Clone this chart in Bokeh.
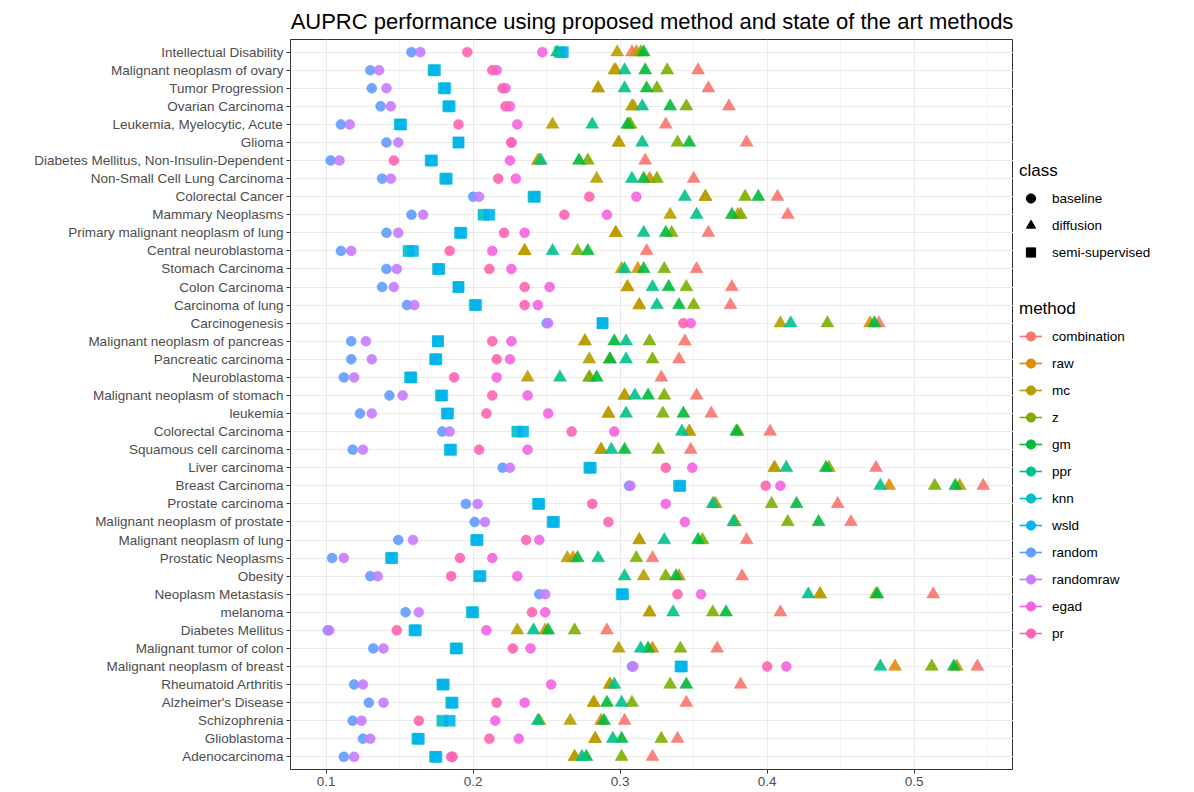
from bokeh.plotting import figure
from bokeh.models import (ColumnDataSource, FactorRange, Range1d, FixedTicker,
                          Legend, LegendItem)
from bokeh.layouts import row
from bokeh.embed import file_html
from bokeh.resources import INLINE

# Diseases, listed top to bottom
diseases = [
    "Intellectual Disability", "Malignant neoplasm of ovary", "Tumor Progression",
    "Ovarian Carcinoma", "Leukemia, Myelocytic, Acute", "Glioma",
    "Diabetes Mellitus, Non-Insulin-Dependent", "Non-Small Cell Lung Carcinoma",
    "Colorectal Cancer", "Mammary Neoplasms", "Primary malignant neoplasm of lung",
    "Central neuroblastoma", "Stomach Carcinoma", "Colon Carcinoma",
    "Carcinoma of lung", "Carcinogenesis", "Malignant neoplasm of pancreas",
    "Pancreatic carcinoma", "Neuroblastoma", "Malignant neoplasm of stomach",
    "leukemia", "Colorectal Carcinoma", "Squamous cell carcinoma", "Liver carcinoma",
    "Breast Carcinoma", "Prostate carcinoma", "Malignant neoplasm of prostate",
    "Malignant neoplasm of lung", "Prostatic Neoplasms", "Obesity",
    "Neoplasm Metastasis", "melanoma", "Diabetes Mellitus", "Malignant tumor of colon",
    "Malignant neoplasm of breast", "Rheumatoid Arthritis", "Alzheimer's Disease",
    "Schizophrenia", "Glioblastoma", "Adenocarcinoma",
]

methods = ["combination", "raw", "mc", "z", "gm", "ppr",
           "knn", "wsld", "random", "randomraw", "egad", "pr"]
method_class = {
    "combination": "diffusion", "raw": "diffusion", "mc": "diffusion",
    "z": "diffusion", "gm": "diffusion", "ppr": "diffusion",
    "knn": "semi-supervised", "wsld": "semi-supervised",
    "random": "baseline", "randomraw": "baseline", "egad": "baseline", "pr": "baseline",
}
classes = ["baseline", "diffusion", "semi-supervised"]
method_colors = ["#F8766D", "#DE8C00", "#B79F00", "#7CAE00", "#00BA38", "#00C08B",
                 "#00BFC4", "#00B4F0", "#619CFF", "#C77CFF", "#F564E3", "#FF64B0"]

# AUPRC per method, one value per disease (same order as `diseases`)
combination = [0.308, 0.353, 0.360, 0.374, 0.331, 0.386, 0.317, 0.350, 0.407, 0.414,
               0.360, 0.318, 0.352, 0.376, 0.375, 0.476, 0.344, 0.340, 0.328, 0.352,
               0.362, 0.402, 0.348, 0.474, 0.547, 0.448, 0.457, 0.386, 0.322, 0.383,
               0.513, 0.409, 0.291, 0.366, 0.543, 0.382, 0.345, 0.303, 0.339, 0.322]
raw = [0.311, 0.297, 0.285, 0.309, 0.306, 0.299, 0.245, 0.320, 0.358, 0.380,
       0.297, 0.235, 0.312, 0.305, 0.313, 0.470, 0.276, 0.293, 0.279, 0.303,
       0.292, 0.347, 0.287, 0.405, 0.483, 0.364, 0.378, 0.313, 0.268, 0.340,
       0.436, 0.320, 0.249, 0.322, 0.487, 0.293, 0.282, 0.287, 0.283, 0.269]
mc = [0.298, 0.296, 0.285, 0.308, 0.254, 0.299, 0.244, 0.284, 0.358, 0.334,
      0.297, 0.235, 0.301, 0.305, 0.313, 0.409, 0.276, 0.279, 0.237, 0.303,
      0.292, 0.347, 0.287, 0.405, 0.531, 0.365, 0.378, 0.313, 0.264, 0.316,
      0.436, 0.320, 0.230, 0.299, 0.529, 0.293, 0.282, 0.266, 0.283, 0.269]
z = [0.314, 0.332, 0.325, 0.345, 0.307, 0.339, 0.278, 0.325, 0.385, 0.382,
     0.335, 0.271, 0.330, 0.345, 0.350, 0.441, 0.320, 0.322, 0.279, 0.330,
     0.329, 0.380, 0.326, 0.442, 0.514, 0.403, 0.414, 0.356, 0.311, 0.331,
     0.474, 0.363, 0.269, 0.341, 0.512, 0.334, 0.308, 0.245, 0.328, 0.301]
gm = [0.316, 0.317, 0.318, 0.334, 0.305, 0.347, 0.272, 0.316, 0.394, 0.376,
      0.331, 0.278, 0.316, 0.333, 0.340, 0.473, 0.296, 0.293, 0.284, 0.319,
      0.343, 0.379, 0.303, 0.440, 0.528, 0.420, 0.435, 0.353, 0.271, 0.338,
      0.475, 0.372, 0.251, 0.319, 0.527, 0.345, 0.291, 0.289, 0.301, 0.277]
ppr = [0.257, 0.303, 0.303, 0.315, 0.281, 0.315, 0.246, 0.308, 0.344, 0.352,
       0.316, 0.254, 0.303, 0.322, 0.325, 0.416, 0.304, 0.304, 0.259, 0.310,
       0.304, 0.342, 0.294, 0.413, 0.477, 0.363, 0.377, 0.330, 0.285, 0.303,
       0.428, 0.336, 0.241, 0.314, 0.477, 0.296, 0.301, 0.244, 0.295, 0.274]
knn = [0.259, 0.173, 0.180, 0.183, 0.150, 0.190, 0.171, 0.181, 0.241, 0.207,
       0.191, 0.156, 0.176, 0.190, 0.201, 0.288, 0.176, 0.174, 0.157, 0.178,
       0.182, 0.230, 0.184, 0.279, 0.340, 0.244, 0.254, 0.202, 0.144, 0.204,
       0.301, 0.199, 0.160, 0.188, 0.341, 0.179, 0.185, 0.179, 0.162, 0.174]
wsld = [0.261, 0.174, 0.181, 0.184, 0.151, 0.190, 0.172, 0.182, 0.242, 0.211,
        0.192, 0.159, 0.177, 0.190, 0.202, 0.288, 0.176, 0.175, 0.158, 0.179,
        0.183, 0.234, 0.185, 0.280, 0.341, 0.245, 0.255, 0.203, 0.145, 0.205,
        0.302, 0.200, 0.161, 0.189, 0.342, 0.180, 0.186, 0.184, 0.163, 0.175]
random = [0.158, 0.130, 0.131, 0.137, 0.110, 0.141, 0.103, 0.138, 0.200, 0.158,
          0.141, 0.110, 0.141, 0.138, 0.155, 0.250, 0.117, 0.117, 0.112, 0.143,
          0.123, 0.179, 0.118, 0.220, 0.306, 0.195, 0.201, 0.149, 0.104, 0.130,
          0.245, 0.154, 0.101, 0.132, 0.308, 0.119, 0.129, 0.118, 0.125, 0.112]
randomraw = [0.164, 0.136, 0.141, 0.144, 0.116, 0.149, 0.109, 0.144, 0.204, 0.166,
             0.149, 0.117, 0.148, 0.146, 0.160, 0.251, 0.127, 0.131, 0.119, 0.152,
             0.131, 0.184, 0.125, 0.225, 0.307, 0.203, 0.208, 0.159, 0.112, 0.135,
             0.249, 0.163, 0.102, 0.139, 0.309, 0.125, 0.139, 0.124, 0.130, 0.119]
egad = [0.247, 0.216, 0.222, 0.225, 0.230, 0.226, 0.225, 0.229, 0.311, 0.291,
        0.235, 0.213, 0.226, 0.252, 0.244, 0.348, 0.226, 0.225, 0.216, 0.237,
        0.251, 0.296, 0.237, 0.349, 0.409, 0.331, 0.344, 0.245, 0.213, 0.230,
        0.355, 0.249, 0.209, 0.239, 0.413, 0.253, 0.235, 0.215, 0.231, 0.185]
pr = [0.196, 0.213, 0.220, 0.222, 0.190, 0.226, 0.146, 0.217, 0.279, 0.262,
      0.221, 0.184, 0.211, 0.235, 0.235, 0.343, 0.213, 0.216, 0.187, 0.213,
      0.209, 0.267, 0.204, 0.331, 0.399, 0.281, 0.292, 0.236, 0.191, 0.185,
      0.339, 0.240, 0.148, 0.227, 0.400, 0.180, 0.216, 0.163, 0.211, 0.186]

x_ticks = [0.1, 0.2, 0.3, 0.4, 0.5]
x_minor = [0.15, 0.25, 0.35, 0.45, 0.55]

scores = {"combination": combination, "raw": raw, "mc": mc, "z": z, "gm": gm,
          "ppr": ppr, "knn": knn, "wsld": wsld, "random": random,
          "randomraw": randomraw, "egad": egad, "pr": pr}

FONT = "Liberation Sans"
markers = {"baseline": "circle", "diffusion": "triangle", "semi-supervised": "square"}
sizes = {"baseline": 10, "diffusion": 13, "semi-supervised": 11}

y_range = FactorRange(factors=diseases[::-1], range_padding=0.2,
                      range_padding_units="absolute")
p = figure(frame_width=723, frame_height=730, y_range=y_range,
           x_range=Range1d(0.0757, 0.5676),
           title="AUPRC performance using proposed method and state of the art methods",
           output_backend="svg", toolbar_location=None,
           min_border_left=290, min_border_right=0, min_border_top=39,
           min_border_bottom=23, background_fill_color="white",
           border_fill_color="white")

p.title.text_font = FONT
p.title.text_font_size = "22px"
p.title.text_font_style = "normal"
p.title.text_color = "#000000"
p.title.align = "center"
p.title.standoff = 12

p.outline_line_color = "#333333"
p.outline_line_width = 1

p.xaxis.ticker = FixedTicker(ticks=x_ticks, minor_ticks=x_minor)
for ax in (p.xaxis, p.yaxis):
    ax.axis_line_color = None
    ax.major_tick_line_color = "#333333"
    ax.major_tick_out = 4
    ax.major_tick_in = 0
    ax.minor_tick_line_color = None
    ax.major_label_text_font = FONT
    ax.major_label_text_font_size = "13.5px"
    ax.major_label_text_color = "#4D4D4D"
    ax.major_label_standoff = 3

p.xgrid.grid_line_color = "#EBEBEB"
p.xgrid.grid_line_width = 1.1
p.xgrid.minor_grid_line_color = "#EBEBEB"
p.xgrid.minor_grid_line_width = 0.6
p.ygrid.grid_line_color = "#EBEBEB"
p.ygrid.grid_line_width = 1.1

# draw the points: baseline circles first, then squares, then triangles
draw_order = ["random", "randomraw", "egad", "pr", "knn", "wsld",
              "combination", "raw", "mc", "z", "gm", "ppr"]
for m in draw_order:
    cls = method_class[m]
    col = method_colors[methods.index(m)]
    src = ColumnDataSource(data=dict(score=scores[m], disease=diseases))
    p.scatter(x="score", y="disease", source=src, marker=markers[cls],
              size=sizes[cls], fill_color=col, line_color=col, line_width=0.5,
              fill_alpha=0.9, line_alpha=0.9)

# legend panel on the right; its glyph renderers sit outside the visible range
leg = figure(width=181, height=792, x_range=Range1d(0, 1), y_range=Range1d(0, 1),
             output_backend="svg", toolbar_location=None,
             x_axis_location=None, y_axis_location=None,
             min_border=0, outline_line_color=None)
leg.grid.visible = False

OFF = [-10.0, -9.0]

class_items = []
for c in classes:
    r = leg.scatter(x=OFF[:1], y=OFF[:1], marker=markers[c], size=sizes[c],
                    fill_color="black", line_color="black")
    class_items.append(LegendItem(label=c, renderers=[r]))

method_items = []
for m, col in zip(methods, method_colors):
    rl = leg.line(x=OFF, y=OFF, line_color=col, line_width=1.6)
    rp = leg.scatter(x=OFF[:1], y=OFF[:1], marker="circle", size=10,
                     fill_color=col, line_color=col)
    method_items.append(LegendItem(label=m, renderers=[rl, rp]))


def style_legend(lg):
    lg.title_text_font = FONT
    lg.title_text_font_size = "17px"
    lg.title_text_font_style = "normal"
    lg.title_text_color = "#000000"
    lg.label_text_font = FONT
    lg.label_text_font_size = "13.5px"
    lg.label_text_color = "#000000"
    lg.background_fill_alpha = 0
    lg.border_line_color = None
    lg.padding = 0
    lg.margin = 0
    lg.spacing = 3
    lg.label_height = 24
    lg.glyph_height = 24
    lg.glyph_width = 23
    lg.label_standoff = 10
    lg.title_standoff = 5


class_legend = Legend(items=class_items, title="class", location=(6, 505))
method_legend = Legend(items=method_items, title="method", location=(6, 124))
style_legend(class_legend)
style_legend(method_legend)
leg.add_layout(class_legend)
leg.add_layout(method_legend)

layout = row(p, leg)
open("out.html", "w").write(file_html(layout, INLINE))
